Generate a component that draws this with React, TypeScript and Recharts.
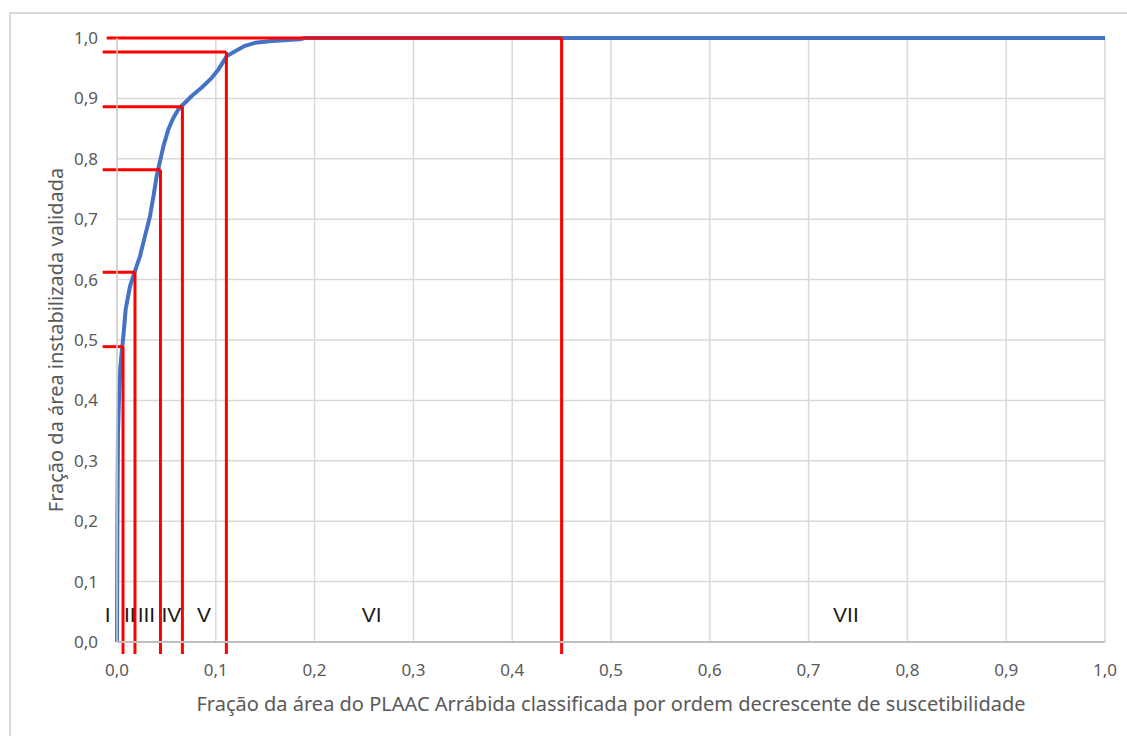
import React from 'react';
import {
  LineChart,
  Line,
  XAxis,
  YAxis,
  CartesianGrid,
  ReferenceLine,
  ReferenceDot,
} from 'recharts';

// Cumulative success curve (fraction of area vs fraction of validated unstable area)
const curveX = [
  0, 0.0004, 0.001, 0.002, 0.0034, 0.005, 0.0065, 0.0088, 0.0132, 0.0176, 0.0233,
  0.0283, 0.0334, 0.0369, 0.0402, 0.047, 0.052, 0.0571, 0.0622, 0.0756, 0.0858,
  0.0959, 0.1027, 0.1111, 0.1195, 0.1296, 0.1397, 0.1566, 0.185, 0.19, 1.0,
];
const curveY = [
  0, 0.2, 0.346, 0.401, 0.456, 0.483, 0.507, 0.551, 0.589, 0.611, 0.639,
  0.672, 0.705, 0.738, 0.772, 0.821, 0.849, 0.868, 0.882, 0.904, 0.918,
  0.934, 0.948, 0.97, 0.978, 0.987, 0.992, 0.995, 0.998, 1.0, 1.0,
];

// Susceptibility class boundaries (red lines)
const classBoundX = [0.0061, 0.0182, 0.044, 0.0662, 0.1107, 0.45];
const classBoundY = [0.489, 0.612, 0.782, 0.886, 0.977, 1.0];
const classHStartX = [-0.0145, -0.0145, -0.0145, -0.0145, -0.0145, -0.0104];
const classLineBottom = -0.02;

// Class labels
const classLabels = ['I', 'II', 'III', 'IV', 'V', 'VI', 'VII'];
const classLabelX = [-0.0094, 0.0129, 0.0298, 0.0551, 0.088, 0.2578, 0.7378];
const classLabelY = 0.045;

const axisTicks = [0, 0.1, 0.2, 0.3, 0.4, 0.5, 0.6, 0.7, 0.8, 0.9, 1.0];

const xTitle =
  'Fração da área do PLAAC Arrábida classificada por ordem decrescente de suscetibilidade';
const yTitle = 'Fração da área instabilizada validada';

const curveData = curveX.map((x, i) => ({ x, y: curveY[i] }));

const fmt = (v: number) => v.toFixed(1).replace('.', ',');

const FONT = 'Noto Sans';
const GRAY = '#595959';

const YTitle = (props: any) => {
  const vb = props.viewBox || {};
  const cx = 55;
  const cy = vb.y + vb.height / 2;
  return (
    <text
      x={cx}
      y={cy}
      transform={`rotate(-90, ${cx}, ${cy})`}
      textAnchor="middle"
      dominantBaseline="central"
      fill={GRAY}
      fontSize={20}
      fontFamily={FONT}
    >
      {yTitle}
    </text>
  );
};

export default function App() {
  return (
    <div style={{ position: 'absolute', left: 0, top: 0, width: 1127, height: 736, background: '#fff', overflow: 'hidden' }}>
      <div
        style={{
          position: 'absolute',
          left: 9,
          top: 12,
          width: 1130,
          height: 740,
          borderLeft: '2px solid #d9d9d9',
          borderTop: '2px solid #d9d9d9',
        }}
      />
      <div style={{ position: 'absolute', left: 0, top: 0 }}>
        <LineChart
          width={1127}
          height={736}
          data={curveData}
          margin={{ top: 38, right: 22, left: 0, bottom: 0 }}
        >
          <CartesianGrid stroke="#d9d9d9" strokeWidth={1.5} />
          <XAxis
            type="number"
            dataKey="x"
            domain={[0, 1]}
            ticks={axisTicks}
            tickFormatter={fmt}
            height={94}
            tickLine={false}
            tickSize={6}
            tickMargin={16}
            axisLine={{ stroke: '#bfbfbf', strokeWidth: 2 }}
            tick={{ fill: GRAY, fontSize: 17, fontFamily: FONT }}
            label={{
              value: xTitle,
              position: 'insideBottom',
              offset: 25,
              fill: GRAY,
              fontSize: 20,
              fontFamily: FONT,
            }}
          />
          <YAxis
            type="number"
            domain={[0, 1]}
            ticks={axisTicks}
            tickFormatter={fmt}
            width={117}
            tickLine={false}
            tickSize={6}
            tickMargin={13}
            axisLine={{ stroke: '#d0d0d0', strokeWidth: 1.5 }}
            tick={{ fill: GRAY, fontSize: 17, fontFamily: FONT }}
            label={{ content: YTitle }}
          />
          <Line
            type="linear"
            dataKey="y"
            stroke="#4472C4"
            strokeWidth={4}
            strokeLinejoin="round"
            dot={false}
            isAnimationActive={false}
          />
          {classBoundX.map((bx, i) => (
            <ReferenceLine
              key={`h${i}`}
              segment={[
                { x: classHStartX[i], y: classBoundY[i] },
                { x: bx, y: classBoundY[i] },
              ]}
              stroke="#ff0000"
              strokeWidth={3}
              ifOverflow="visible"
            />
          ))}
          {classBoundX.map((bx, i) => (
            <ReferenceLine
              key={`v${i}`}
              segment={[
                { x: bx, y: classBoundY[i] },
                { x: bx, y: classLineBottom },
              ]}
              stroke="#ff0000"
              strokeWidth={3}
              ifOverflow="visible"
            />
          ))}
          {classLabels.map((lab, i) => (
            <ReferenceDot
              key={`l${i}`}
              x={classLabelX[i]}
              y={classLabelY}
              r={1}
              fill="none"
              stroke="none"
              ifOverflow="visible"
              label={{
                value: lab,
                position: 'center',
                fill: '#1a1a1a',
                fontSize: 21,
                fontFamily: 'Liberation Sans',
              }}
            />
          ))}
        </LineChart>
      </div>
    </div>
  );
}
